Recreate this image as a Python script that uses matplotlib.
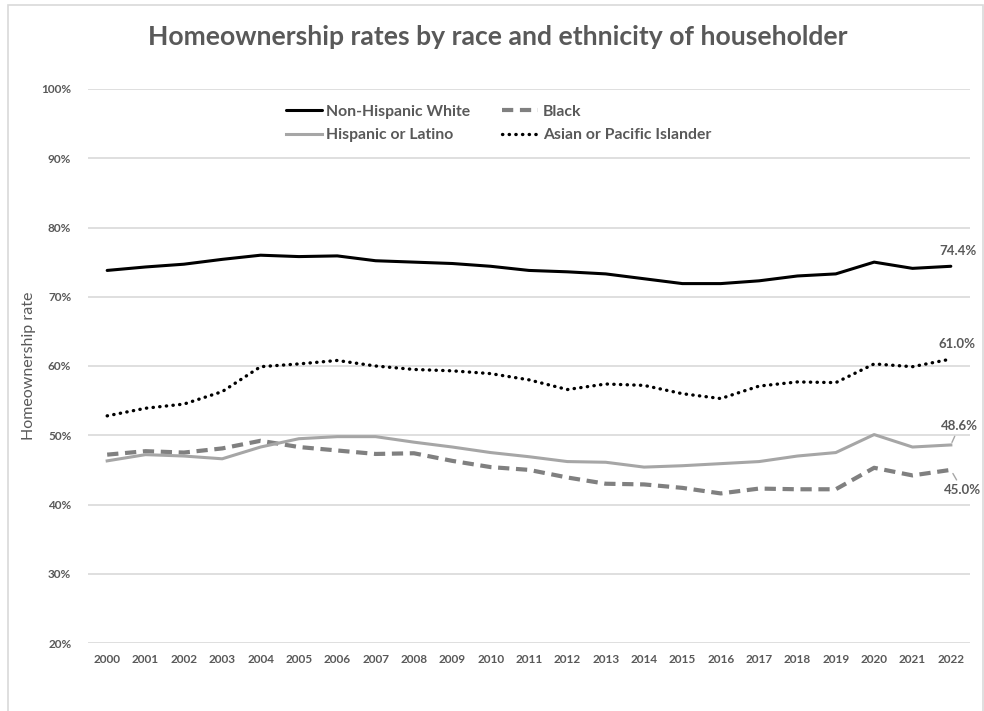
import matplotlib.pyplot as plt
from matplotlib.patches import Rectangle
from matplotlib.ticker import FuncFormatter

plt.rcParams['font.family'] = ['Lato', 'DejaVu Sans']

years = [str(y) for y in range(2000, 2023)]

white = [73.8, 74.3, 74.7, 75.4, 76.0, 75.8, 75.9, 75.2, 75.0, 74.8, 74.4, 73.8,
         73.6, 73.3, 72.6, 71.9, 71.9, 72.3, 73.0, 73.3, 75.0, 74.1, 74.4]
black = [47.2, 47.7, 47.5, 48.1, 49.2, 48.3, 47.8, 47.3, 47.4, 46.3, 45.4, 45.0,
         43.9, 43.0, 42.9, 42.4, 41.6, 42.3, 42.2, 42.2, 45.3, 44.2, 45.0]
hispanic = [46.3, 47.2, 47.0, 46.6, 48.3, 49.5, 49.8, 49.8, 49.0, 48.3, 47.5, 46.9,
            46.2, 46.1, 45.4, 45.6, 45.9, 46.2, 47.0, 47.5, 50.1, 48.3, 48.6]
asian = [52.8, 53.9, 54.5, 56.3, 59.9, 60.3, 60.8, 60.0, 59.5, 59.3, 58.9, 58.0,
         56.6, 57.4, 57.2, 56.0, 55.3, 57.1, 57.7, 57.6, 60.3, 59.9, 61.0]

series_names = ['Non-Hispanic White', 'Black', 'Hispanic or Latino',
                'Asian or Pacific Islander']

txt = '#595959'

fig = plt.figure(figsize=(9.84, 7.11), dpi=100)
ax = fig.add_axes([88 / 984, 1 - 643 / 711, (970 - 88) / 984, (643 - 89) / 711])

# chart border like the excel chart area
fig.patches.append(Rectangle((8 / 984, -0.1), 975 / 984, 1.1 - 4.5 / 711,
                             transform=fig.transFigure, fill=False,
                             edgecolor='#d9d9d9', lw=1.2))

x = list(range(len(years)))
l1, = ax.plot(x, white, color='black', lw=2.2, solid_capstyle='round')
l2, = ax.plot(x, black, color='#808080', lw=3, ls=(0, (2.7, 1.6)))
l3, = ax.plot(x, hispanic, color='#a6a6a6', lw=2.2)
l4, = ax.plot(x, asian, color='black', lw=2.4, ls=(0, (0.1, 1.9)),
              dash_capstyle='round')

ax.set_xlim(-0.5, len(years) - 0.5)
ax.set_ylim(20, 100)
ax.set_yticks(range(20, 101, 10))
ax.yaxis.set_major_formatter(FuncFormatter(lambda v, p: '%d%%' % v))
ax.set_xticks(x)
ax.set_xticklabels(years)
ax.grid(axis='y', color='#d9d9d9', lw=1.2)
ax.set_axisbelow(True)
for s in ax.spines.values():
    s.set_visible(False)
ax.tick_params(length=0, colors=txt, labelsize=8.5)
ax.tick_params(axis='y', pad=12)
ax.tick_params(axis='x', pad=8)
for lab in ax.get_xticklabels() + ax.get_yticklabels():
    lab.set_fontweight('bold')

ax.set_ylabel('Homeownership rate', color=txt, fontsize=11.5, labelpad=4)

fig.text(498 / 984, 1 - 37 / 711, 'Homeownership rates by race and ethnicity of householder',
         ha='center', va='center', fontsize=19.1, fontweight='bold', color=txt)

# ncol fills by column, so reorder to get White/Black on the first row
order = [0, 2, 1, 3]
handles = [l1, l2, l3, l4]
leg = ax.legend([handles[i] for i in order], [series_names[i] for i in order],
                ncol=2, loc='upper left', bbox_to_anchor=(0.208, 0.997),
                frameon=False, fontsize=11.3, handlelength=2.3,
                handletextpad=0.3, columnspacing=2.0, labelspacing=0.6)
for t in leg.get_texts():
    t.set_color(txt)
    t.set_fontweight('bold')

# end labels
last = len(years) - 1
ax.annotate('%.1f%%' % white[-1], (last, white[-1]), xytext=(last + 0.2, white[-1] + 2.2),
            ha='center', va='center', color=txt, fontsize=9.5, fontweight='bold')
ax.annotate('%.1f%%' % asian[-1], (last, asian[-1]), xytext=(last + 0.15, asian[-1] + 2.2),
            ha='center', va='center', color=txt, fontsize=9.5, fontweight='bold')
ax.annotate('%.1f%%' % hispanic[-1], (last, hispanic[-1]), xytext=(last + 0.22, hispanic[-1] + 2.7),
            ha='center', va='center', color=txt, fontsize=9.5, fontweight='bold',
            arrowprops=dict(arrowstyle='-', color='#a6a6a6', lw=1, shrinkA=1, shrinkB=2))
ax.annotate('%.1f%%' % black[-1], (last, black[-1]), xytext=(last + 0.3, black[-1] - 2.9),
            ha='center', va='center', color=txt, fontsize=9.5, fontweight='bold',
            arrowprops=dict(arrowstyle='-', color='#a6a6a6', lw=1, shrinkA=1, shrinkB=3))

fig.savefig('out.png', dpi=100)
